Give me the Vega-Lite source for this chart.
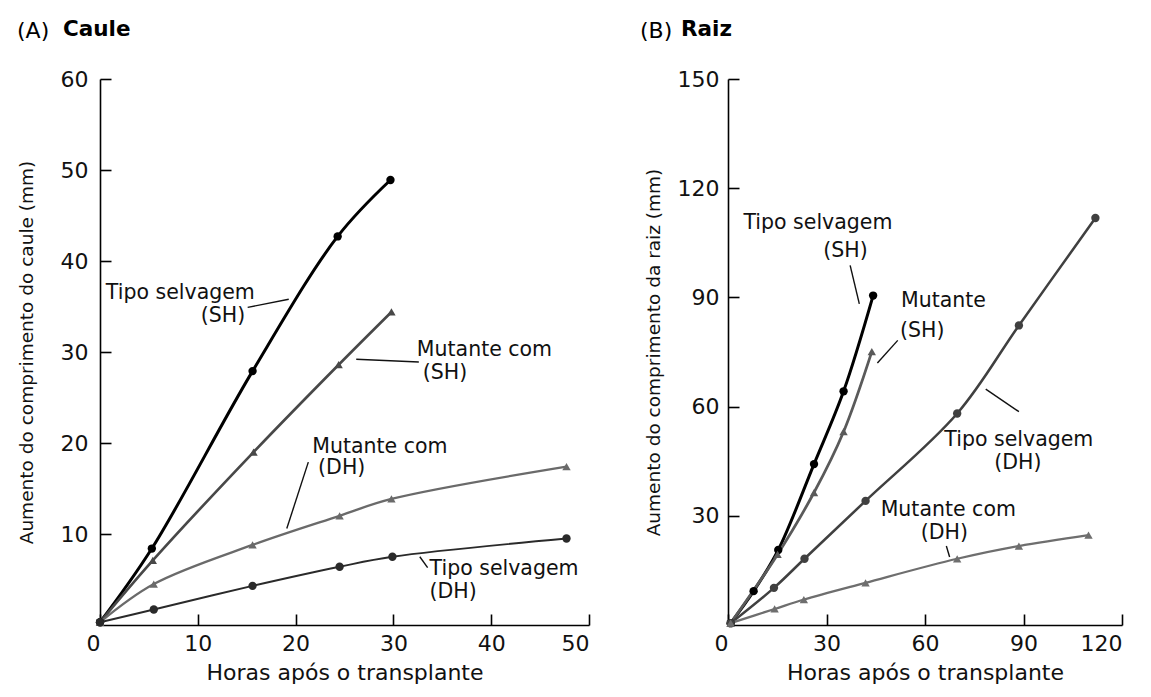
{
  "$schema": "https://vega.github.io/schema/vega-lite/v6.json",
  "background": "white",
  "padding": {"left": 17, "top": 18, "right": 2, "bottom": 5},
  "spacing": 50,
  "config": {
    "font": "DejaVu Sans",
    "view": {"stroke": null},
    "axis": {
      "grid": false,
      "domainColor": "#000",
      "domainWidth": 1.6,
      "tickColor": "#000",
      "tickWidth": 1.6,
      "tickSize": -11,
      "labelFontSize": 22,
      "labelColor": "#111",
      "labelFont": "DejaVu Sans",
      "titleFont": "DejaVu Sans",
      "titleFontWeight": "normal",
      "titleColor": "#111"
    },
    "text": {"font": "DejaVu Sans"},
    "title": {"anchor": "start", "fontSize": 22, "color": "#000", "font": "DejaVu Sans", "frame": "bounds"}
  },
  "datasets": {
    "caule": [
      {"s": "Tipo selvagem (SH)", "x": 0, "y": 0.3},
      {"s": "Tipo selvagem (SH)", "x": 5.3, "y": 8.4},
      {"s": "Tipo selvagem (SH)", "x": 15.6, "y": 27.9},
      {"s": "Tipo selvagem (SH)", "x": 24.3, "y": 42.7},
      {"s": "Tipo selvagem (SH)", "x": 29.7, "y": 48.9},
      {"s": "Mutante com (SH)", "x": 0, "y": 0.3},
      {"s": "Mutante com (SH)", "x": 5.4, "y": 7.1},
      {"s": "Mutante com (SH)", "x": 15.7, "y": 19.0},
      {"s": "Mutante com (SH)", "x": 24.4, "y": 28.6},
      {"s": "Mutante com (SH)", "x": 29.8, "y": 34.4},
      {"s": "Mutante com (DH)", "x": 0, "y": 0.3},
      {"s": "Mutante com (DH)", "x": 5.5, "y": 4.5},
      {"s": "Mutante com (DH)", "x": 15.6, "y": 8.8},
      {"s": "Mutante com (DH)", "x": 24.5, "y": 12.0},
      {"s": "Mutante com (DH)", "x": 29.8, "y": 13.85},
      {"s": "Mutante com (DH)", "x": 47.7, "y": 17.4},
      {"s": "Tipo selvagem (DH)", "x": 0, "y": 0.3},
      {"s": "Tipo selvagem (DH)", "x": 5.5, "y": 1.7},
      {"s": "Tipo selvagem (DH)", "x": 15.6, "y": 4.3},
      {"s": "Tipo selvagem (DH)", "x": 24.5, "y": 6.4},
      {"s": "Tipo selvagem (DH)", "x": 29.9, "y": 7.5},
      {"s": "Tipo selvagem (DH)", "x": 47.7, "y": 9.5}
    ],
    "caule_labels": [
      {"t": "Tipo selvagem", "x": 0.6, "y": 36.5},
      {"t": "(SH)", "x": 10.3, "y": 34.0},
      {"t": "Mutante com", "x": 32.4, "y": 30.2},
      {"t": "(SH)", "x": 33.0, "y": 27.7},
      {"t": "Mutante com", "x": 21.7, "y": 19.6},
      {"t": "(DH)", "x": 22.3, "y": 17.2},
      {"t": "Tipo selvagem", "x": 33.7, "y": 6.1},
      {"t": "(DH)", "x": 33.7, "y": 3.6}
    ],
    "caule_leaders": [
      {"x": 15.1, "y": 34.9, "x2": 19.3, "y2": 35.8},
      {"x": 26.2, "y": 29.2, "x2": 32.6, "y2": 28.9},
      {"x": 21.3, "y": 17.9, "x2": 19.1, "y2": 10.6},
      {"x": 32.7, "y": 7.5, "x2": 33.5, "y2": 6.3}
    ],
    "raiz": [
      {"s": "Tipo selvagem (SH)", "x": 0.8, "y": 0.5},
      {"s": "Tipo selvagem (SH)", "x": 7.8, "y": 9.3},
      {"s": "Tipo selvagem (SH)", "x": 15.3, "y": 20.6},
      {"s": "Tipo selvagem (SH)", "x": 26.2, "y": 44.2},
      {"s": "Tipo selvagem (SH)", "x": 35.2, "y": 64.2},
      {"s": "Tipo selvagem (SH)", "x": 44.2, "y": 90.5},
      {"s": "Mutante (SH)", "x": 0.8, "y": 0.5},
      {"s": "Mutante (SH)", "x": 15.1, "y": 19.4},
      {"s": "Mutante (SH)", "x": 26.2, "y": 36.4},
      {"s": "Mutante (SH)", "x": 35.2, "y": 53.1},
      {"s": "Mutante (SH)", "x": 43.8, "y": 75.1},
      {"s": "Tipo selvagem (DH)", "x": 0.8, "y": 0.5},
      {"s": "Tipo selvagem (DH)", "x": 14.0, "y": 10.2},
      {"s": "Tipo selvagem (DH)", "x": 23.3, "y": 18.2},
      {"s": "Tipo selvagem (DH)", "x": 41.9, "y": 34.1},
      {"s": "Tipo selvagem (DH)", "x": 69.8, "y": 58.1},
      {"s": "Tipo selvagem (DH)", "x": 88.6, "y": 82.3},
      {"s": "Tipo selvagem (DH)", "x": 111.9, "y": 111.8},
      {"s": "Mutante com (DH)", "x": 0.8, "y": 0.5},
      {"s": "Mutante com (DH)", "x": 14.2, "y": 4.4},
      {"s": "Mutante com (DH)", "x": 23.1, "y": 7.0},
      {"s": "Mutante com (DH)", "x": 41.9, "y": 11.6},
      {"s": "Mutante com (DH)", "x": 69.8, "y": 18.2},
      {"s": "Mutante com (DH)", "x": 88.6, "y": 21.7},
      {"s": "Mutante com (DH)", "x": 109.8, "y": 24.7}
    ],
    "raiz_labels": [
      {"t": "Tipo selvagem", "x": 4.7, "y": 110.5},
      {"t": "(SH)", "x": 29.0, "y": 102.7},
      {"t": "Mutante", "x": 52.7, "y": 88.9},
      {"t": "(SH)", "x": 52.4, "y": 80.7},
      {"t": "Tipo selvagem", "x": 65.9, "y": 50.8},
      {"t": "(DH)", "x": 81.1, "y": 44.4},
      {"t": "Mutante com", "x": 46.5, "y": 31.5},
      {"t": "(DH)", "x": 58.7, "y": 25.3}
    ],
    "raiz_leaders": [
      {"x": 37.2, "y": 98.8, "x2": 40.0, "y2": 88.2},
      {"x": 51.7, "y": 78.2, "x2": 45.5, "y2": 72.0},
      {"x": 78.5, "y": 64.8, "x2": 88.6, "y2": 58.6},
      {"x": 66.5, "y": 21.7, "x2": 67.5, "y2": 18.7}
    ]
  },
  "resolve": {"scale": {"color": "independent", "shape": "independent", "strokeWidth": "independent", "x": "independent", "y": "independent"}},
  "hconcat": [
    {
      "title": {"text": "(A)", "fontWeight": "normal", "offset": 0, "dy": 24},
      "vconcat": [
        {
          "title": {"text": "Caule", "fontWeight": "bold", "fontSize": 21.5, "dx": 46, "offset": 28},
          "width": 489,
          "height": 546,
          "encoding": {
            "x": {"field": "x", "type": "quantitative", "scale": {"domain": [0, 50], "nice": false, "zero": true},
                  "axis": {"values": [0, 10, 20, 30, 40, 50], "title": "Horas após o transplante", "titleFontSize": 22, "labelPadding": 19, "titlePadding": 8,
                           "labelOffset": {"condition": {"test": "datum.value === 0", "value": -14}, "value": 0}}},
            "y": {"field": "y", "type": "quantitative", "scale": {"domain": [0, 60], "nice": false, "zero": true},
                  "axis": {"values": [10, 20, 30, 40, 50, 60], "title": "Aumento do comprimento do caule (mm)", "titleFontSize": 18.5, "labelPadding": 23, "titlePadding": 24}}
          },
          "layer": [
            {
              "data": {"name": "caule"},
              "mark": {"type": "line", "interpolate": "catmull-rom"},
              "encoding": {
                "detail": {"field": "s"},
                "color": {"field": "s", "type": "nominal", "legend": null,
                          "scale": {"domain": ["Tipo selvagem (SH)", "Mutante com (SH)", "Mutante com (DH)", "Tipo selvagem (DH)"], "range": ["#000000", "#484848", "#6a6a6a", "#2a2a2a"]}},
                "strokeWidth": {"field": "s", "type": "nominal", "legend": null,
                          "scale": {"domain": ["Tipo selvagem (SH)", "Mutante com (SH)", "Mutante com (DH)", "Tipo selvagem (DH)"], "range": [3, 1.9, 2.3, 2.6]}}
              }
            },
            {
              "data": {"name": "caule"},
              "mark": {"type": "point", "filled": true, "opacity": 1, "size": 70},
              "encoding": {
                "color": {"field": "s", "type": "nominal", "legend": null,
                          "scale": {"domain": ["Tipo selvagem (SH)", "Mutante com (SH)", "Mutante com (DH)", "Tipo selvagem (DH)"], "range": ["#000000", "#484848", "#6a6a6a", "#2a2a2a"]}},
                "shape": {"field": "s", "type": "nominal", "legend": null,
                          "scale": {"domain": ["Tipo selvagem (SH)", "Mutante com (SH)", "Mutante com (DH)", "Tipo selvagem (DH)"], "range": ["circle", "triangle-up", "triangle-up", "circle"]}}
              }
            },
            {
              "data": {"name": "caule_leaders"},
              "mark": {"type": "rule", "color": "#111", "strokeWidth": 1.4},
              "encoding": {"x2": {"field": "x2"}, "y2": {"field": "y2"}}
            },
            {
              "data": {"name": "caule_labels"},
              "mark": {"type": "text", "align": "left", "baseline": "middle", "fontSize": 20.5, "color": "#111"},
              "encoding": {"text": {"field": "t"}}
            }
          ]
        }
      ]
    },
    {
      "title": {"text": "(B)", "fontWeight": "normal", "offset": 0, "dy": 24, "dx": -4},
      "vconcat": [
        {
          "title": {"text": "Raiz", "fontWeight": "bold", "fontSize": 21.5, "dx": 37, "offset": 28},
          "width": 394,
          "height": 546,
          "encoding": {
            "x": {"field": "x", "type": "quantitative", "scale": {"domain": [0, 120], "nice": false, "zero": true},
                  "axis": {"values": [0, 30, 60, 90, 120], "title": "Horas após o transplante", "titleFontSize": 22, "labelPadding": 19, "titlePadding": 8,
                           "labelOffset": {"condition": {"test": "datum.value === 0", "value": -14}, "value": 0}}},
            "y": {"field": "y", "type": "quantitative", "scale": {"domain": [0, 150], "nice": false, "zero": true},
                  "axis": {"values": [30, 60, 90, 120, 150], "title": "Aumento do comprimento da raiz (mm)", "titleFontSize": 18.5, "labelPadding": 20, "titlePadding": 14}}
          },
          "layer": [
            {
              "data": {"name": "raiz"},
              "mark": {"type": "line", "interpolate": "catmull-rom"},
              "encoding": {
                "detail": {"field": "s"},
                "color": {"field": "s", "type": "nominal", "legend": null,
                          "scale": {"domain": ["Tipo selvagem (SH)", "Mutante (SH)", "Tipo selvagem (DH)", "Mutante com (DH)"], "range": ["#000000", "#5a5a5a", "#404040", "#6e6e6e"]}},
                "strokeWidth": {"field": "s", "type": "nominal", "legend": null,
                          "scale": {"domain": ["Tipo selvagem (SH)", "Mutante (SH)", "Tipo selvagem (DH)", "Mutante com (DH)"], "range": [3, 2.3, 2.3, 2.3]}}
              }
            },
            {
              "data": {"name": "raiz"},
              "mark": {"type": "point", "filled": true, "opacity": 1, "size": 70},
              "encoding": {
                "color": {"field": "s", "type": "nominal", "legend": null,
                          "scale": {"domain": ["Tipo selvagem (SH)", "Mutante (SH)", "Tipo selvagem (DH)", "Mutante com (DH)"], "range": ["#000000", "#5a5a5a", "#404040", "#6e6e6e"]}},
                "shape": {"field": "s", "type": "nominal", "legend": null,
                          "scale": {"domain": ["Tipo selvagem (SH)", "Mutante (SH)", "Tipo selvagem (DH)", "Mutante com (DH)"], "range": ["circle", "triangle-up", "circle", "triangle-up"]}}
              }
            },
            {
              "data": {"name": "raiz_leaders"},
              "mark": {"type": "rule", "color": "#111", "strokeWidth": 1.4},
              "encoding": {"x2": {"field": "x2"}, "y2": {"field": "y2"}}
            },
            {
              "data": {"name": "raiz_labels"},
              "mark": {"type": "text", "align": "left", "baseline": "middle", "fontSize": 20.5, "color": "#111"},
              "encoding": {"text": {"field": "t"}}
            }
          ]
        }
      ]
    }
  ]
}
